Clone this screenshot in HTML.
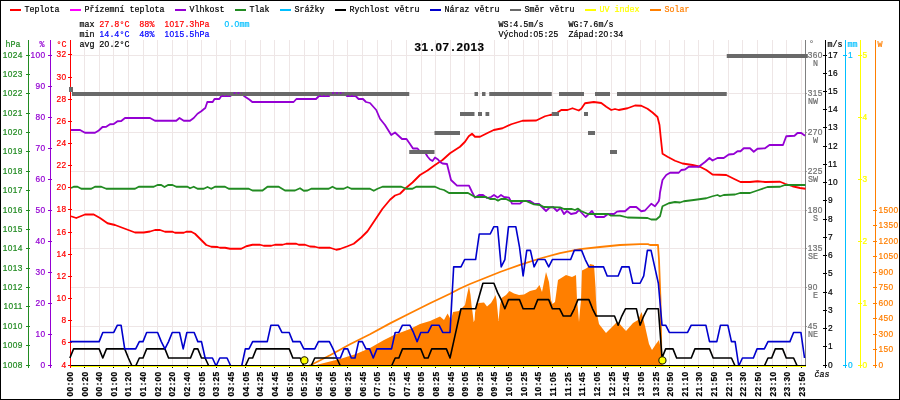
<!DOCTYPE html>
<html lang="cs"><head><meta charset="utf-8"><title>Meteo 31.07.2013</title>
<style>
html,body{margin:0;padding:0;background:#fff;overflow:hidden}
svg{display:block}
text{font-family:"Liberation Mono","DejaVu Sans Mono",monospace;font-size:8.33px;white-space:pre;stroke-width:0.2px}
.d{font-family:"Liberation Sans",sans-serif;letter-spacing:0.044em}
.b{font-weight:bold}
.ttl{font-weight:bold;font-size:11.67px}
.i{font-style:italic}
.ln{fill:none;stroke-width:1.8;stroke-linejoin:round;stroke-linecap:butt}
.cr{shape-rendering:crispEdges}
</style></head><body>
<svg width="900" height="400" viewBox="0 0 900 400">
<rect x="0" y="0" width="900" height="400" fill="#fff"/>
<g class="cr" fill="#eee6e6">
<rect x="84" y="40" width="1" height="325"/>
<rect x="99" y="40" width="1" height="325"/>
<rect x="113" y="40" width="1" height="325"/>
<rect x="128" y="40" width="1" height="325"/>
<rect x="143" y="40" width="1" height="325"/>
<rect x="157" y="40" width="1" height="325"/>
<rect x="172" y="40" width="1" height="325"/>
<rect x="187" y="40" width="1" height="325"/>
<rect x="201" y="40" width="1" height="325"/>
<rect x="216" y="40" width="1" height="325"/>
<rect x="230" y="40" width="1" height="325"/>
<rect x="245" y="40" width="1" height="325"/>
<rect x="260" y="40" width="1" height="325"/>
<rect x="274" y="40" width="1" height="325"/>
<rect x="289" y="40" width="1" height="325"/>
<rect x="304" y="40" width="1" height="325"/>
<rect x="318" y="40" width="1" height="325"/>
<rect x="333" y="40" width="1" height="325"/>
<rect x="347" y="40" width="1" height="325"/>
<rect x="362" y="40" width="1" height="325"/>
<rect x="377" y="40" width="1" height="325"/>
<rect x="391" y="40" width="1" height="325"/>
<rect x="406" y="40" width="1" height="325"/>
<rect x="421" y="40" width="1" height="325"/>
<rect x="435" y="40" width="1" height="325"/>
<rect x="450" y="40" width="1" height="325"/>
<rect x="464" y="40" width="1" height="325"/>
<rect x="479" y="40" width="1" height="325"/>
<rect x="494" y="40" width="1" height="325"/>
<rect x="508" y="40" width="1" height="325"/>
<rect x="523" y="40" width="1" height="325"/>
<rect x="538" y="40" width="1" height="325"/>
<rect x="552" y="40" width="1" height="325"/>
<rect x="567" y="40" width="1" height="325"/>
<rect x="581" y="40" width="1" height="325"/>
<rect x="596" y="40" width="1" height="325"/>
<rect x="611" y="40" width="1" height="325"/>
<rect x="625" y="40" width="1" height="325"/>
<rect x="640" y="40" width="1" height="325"/>
<rect x="655" y="40" width="1" height="325"/>
<rect x="669" y="40" width="1" height="325"/>
<rect x="684" y="40" width="1" height="325"/>
<rect x="698" y="40" width="1" height="325"/>
<rect x="713" y="40" width="1" height="325"/>
<rect x="728" y="40" width="1" height="325"/>
<rect x="742" y="40" width="1" height="325"/>
<rect x="757" y="40" width="1" height="325"/>
<rect x="772" y="40" width="1" height="325"/>
<rect x="786" y="40" width="1" height="325"/>
<rect x="801" y="40" width="1" height="325"/>
<rect x="71" y="55" width="735" height="1"/>
<rect x="71" y="93" width="735" height="1"/>
<rect x="71" y="132" width="735" height="1"/>
<rect x="71" y="171" width="735" height="1"/>
<rect x="71" y="210" width="735" height="1"/>
<rect x="71" y="248" width="735" height="1"/>
<rect x="71" y="287" width="735" height="1"/>
<rect x="71" y="326" width="735" height="1"/>
</g>
<g class="cr" fill="#228b22">
<rect x="28" y="40" width="1" height="328"/>
<rect x="26" y="365" width="4" height="1"/>
<rect x="26" y="345" width="4" height="1"/>
<rect x="26" y="326" width="4" height="1"/>
<rect x="26" y="306" width="4" height="1"/>
<rect x="26" y="287" width="4" height="1"/>
<rect x="26" y="268" width="4" height="1"/>
<rect x="26" y="248" width="4" height="1"/>
<rect x="26" y="229" width="4" height="1"/>
<rect x="26" y="210" width="4" height="1"/>
<rect x="26" y="190" width="4" height="1"/>
<rect x="26" y="171" width="4" height="1"/>
<rect x="26" y="151" width="4" height="1"/>
<rect x="26" y="132" width="4" height="1"/>
<rect x="26" y="113" width="4" height="1"/>
<rect x="26" y="93" width="4" height="1"/>
<rect x="26" y="74" width="4" height="1"/>
<rect x="26" y="55" width="4" height="1"/>
</g>
<g class="cr" fill="#9400d3">
<rect x="50" y="40" width="1" height="328"/>
<rect x="48" y="365" width="4" height="1"/>
<rect x="48" y="334" width="4" height="1"/>
<rect x="48" y="303" width="4" height="1"/>
<rect x="48" y="272" width="4" height="1"/>
<rect x="48" y="241" width="4" height="1"/>
<rect x="48" y="210" width="4" height="1"/>
<rect x="48" y="179" width="4" height="1"/>
<rect x="48" y="148" width="4" height="1"/>
<rect x="48" y="117" width="4" height="1"/>
<rect x="48" y="86" width="4" height="1"/>
<rect x="48" y="55" width="4" height="1"/>
</g>
<g class="cr" fill="#ff0000">
<rect x="70" y="40" width="1" height="328"/>
<rect x="68" y="365" width="4" height="1"/>
<rect x="68" y="342" width="4" height="1"/>
<rect x="68" y="320" width="4" height="1"/>
<rect x="68" y="298" width="4" height="1"/>
<rect x="68" y="276" width="4" height="1"/>
<rect x="68" y="254" width="4" height="1"/>
<rect x="68" y="232" width="4" height="1"/>
<rect x="68" y="209" width="4" height="1"/>
<rect x="68" y="187" width="4" height="1"/>
<rect x="68" y="165" width="4" height="1"/>
<rect x="68" y="143" width="4" height="1"/>
<rect x="68" y="121" width="4" height="1"/>
<rect x="68" y="99" width="4" height="1"/>
<rect x="68" y="77" width="4" height="1"/>
<rect x="68" y="54" width="4" height="1"/>
</g>
<g class="cr" fill="#808080">
<rect x="805" y="40" width="1" height="326"/>
</g>
<g class="cr" fill="#a0a0a0">
<rect x="806" y="326" width="1" height="1"/>
<rect x="806" y="287" width="1" height="1"/>
<rect x="806" y="248" width="1" height="1"/>
<rect x="806" y="210" width="1" height="1"/>
<rect x="806" y="171" width="1" height="1"/>
<rect x="806" y="132" width="1" height="1"/>
<rect x="806" y="93" width="1" height="1"/>
<rect x="806" y="55" width="1" height="1"/>
</g>
<g class="cr" fill="#000000">
<rect x="825" y="40" width="1" height="328"/>
<rect x="823" y="365" width="4" height="1"/>
<rect x="823" y="346" width="4" height="1"/>
<rect x="823" y="328" width="4" height="1"/>
<rect x="823" y="310" width="4" height="1"/>
<rect x="823" y="292" width="4" height="1"/>
<rect x="823" y="273" width="4" height="1"/>
<rect x="823" y="255" width="4" height="1"/>
<rect x="823" y="237" width="4" height="1"/>
<rect x="823" y="219" width="4" height="1"/>
<rect x="823" y="200" width="4" height="1"/>
<rect x="823" y="182" width="4" height="1"/>
<rect x="823" y="164" width="4" height="1"/>
<rect x="823" y="146" width="4" height="1"/>
<rect x="823" y="127" width="4" height="1"/>
<rect x="823" y="109" width="4" height="1"/>
<rect x="823" y="91" width="4" height="1"/>
<rect x="823" y="73" width="4" height="1"/>
<rect x="823" y="55" width="4" height="1"/>
</g>
<g class="cr" fill="#00bfff">
<rect x="845" y="40" width="1" height="328"/>
<rect x="843" y="365" width="4" height="1"/>
<rect x="843" y="55" width="4" height="1"/>
</g>
<g class="cr" fill="#ffff00">
<rect x="860" y="40" width="1" height="328"/>
<rect x="858" y="365" width="4" height="1"/>
<rect x="858" y="303" width="4" height="1"/>
<rect x="858" y="241" width="4" height="1"/>
<rect x="858" y="179" width="4" height="1"/>
<rect x="858" y="117" width="4" height="1"/>
<rect x="858" y="55" width="4" height="1"/>
</g>
<g class="cr" fill="#ff7f00">
<rect x="875" y="40" width="1" height="328"/>
<rect x="873" y="365" width="4" height="1"/>
<rect x="873" y="349" width="4" height="1"/>
<rect x="873" y="334" width="4" height="1"/>
<rect x="873" y="318" width="4" height="1"/>
<rect x="873" y="303" width="4" height="1"/>
<rect x="873" y="287" width="4" height="1"/>
<rect x="873" y="272" width="4" height="1"/>
<rect x="873" y="256" width="4" height="1"/>
<rect x="873" y="241" width="4" height="1"/>
<rect x="873" y="225" width="4" height="1"/>
<rect x="873" y="210" width="4" height="1"/>
</g>
<polygon points="316,365 340,359 356,354 370,348 384,340 394,335 402,332 410,329 420,324 430,321 440,316.5 444,320 447.6,313.6 451,320 453,312 459,311 461,309 465,305 467,295 469,286 470.5,295 471.5,305 472.5,312 473.7,322 474.6,320 475,313 476.5,304 479,303 484,302.5 487,306.5 491,303 494,298 495.5,295 496.5,300 497.5,310 498.5,321 499,316 500,305 501.5,298 506,295 509.5,291 514,293.5 519,295 524,294.5 530,291 536,289.5 539.5,285 542,292 546,272 549,282 551,300 552.4,304 555,302 556,295 558,280 566,275 572,277 576,275 577,300 578,310 579,322 580,310 581,300 582,270.5 586,268.5 589,266.5 590,264 594,265 594.5,272 595.5,287 596,300 597,314 599,324 606,333 610,329 616,323 618,322 626,331 633,323 638,320 641.6,312 645,326 649,344 652,350 656,344 659,340 661,350 662.4,365 662.4,366 316,366" fill="#ff7f00"/>
<polyline class="ln" stroke="#ff7f00" points="309,365.5 311,365 330,355.2 350,344.3 370,334.3 390,323.4 410,313.3 430,303.3 450,293.7 460,288.5 470,284 480,280 500,272 520,264.8 540,258.5 560,253.2 580,249.2 600,247 620,245 640,244.2 648,244.2 650,245 658,245 659,260 660.5,300 661.5,365"/>
<polyline class="ln" stroke="#ff0000" points="71,216.25 76.25,218 85,214.5 93.75,214.5 100,218 107.5,223.25 115,225 125,228.75 135,232.5 143.75,232.5 150,231.5 155,230 160,230 165,231.75 172.5,231.75 175,232.75 183.75,232.75 186.25,231.75 191.25,231.75 195,233.75 200,238.75 206.25,245 211.25,246.75 217.5,247 220,247.75 225,247.75 230,248.75 241.25,248.75 246.25,246.25 252.5,244.75 260,244.75 263.75,245.75 271.25,245.75 275,244.75 282.5,244.75 286.25,243.75 296.25,243.75 298.75,244.75 305,244.75 310,246.5 315,246.75 318.75,247.75 330,247.75 336.25,249.75 340,249 347.5,246.25 353.75,243.75 361.25,237.5 367.5,231.25 375,220 382.5,208.75 390,199.75 395,195.5 400,193.75 405,188.75 412.5,182.5 420,175 427.5,170.5 435,165 442.5,160 450,153.25 460,146.75 465,141.75 468.75,136.25 472,133.75 475,136.75 480,136.75 487.5,133 493.75,130 502.5,128.25 511.25,124.25 522.5,120.75 536.25,120.5 545,116.25 550,115 555,114.25 561.25,110 567.5,110 572.5,108.25 578.75,110.5 581.25,108.75 585,103.25 593.75,102 601.25,103 606.25,106.75 611.25,110 615,109 618.75,110 627.5,108.25 635,105.5 641.25,105.75 647.5,108.75 652.5,112.5 657.5,117 659.5,125 660.75,137.5 662.5,153.75 667.5,156.75 675,160.75 682.5,163.5 692.5,165 700,166.75 706.25,170 712.5,174.5 726.25,175 733.75,178.75 740.5,182 750,182 757.5,181.25 765,182 780,181.75 785,183.75 792.5,186.25 800,188 805.5,188.75"/>
<polyline class="ln" stroke="#9400d3" points="71,130 80,130 85,132.75 95,132.75 98.75,130.5 102.5,127 106.25,126.75 110,124.25 113.75,124 117.5,121.25 121.25,121 125,118 150,118 155,120.75 176.25,120.75 179.5,118 183.75,120.75 190,120.75 193.75,118 197.5,113.75 201.25,111.25 204,109 205.3,108 207.3,102 212.7,102 214.5,99 219.3,99 221.3,96 230.3,96 233.3,93 241.3,93 244,96 247,98 249.3,99.5 252.3,102 293.6,102 296.4,99 316,99 319,96 329,96 332,93 344,93 347,96 355.6,96 358.6,99 363,99 366,102 370,103 376.25,110 380,118.75 385,125 391.25,135 395,132.5 402,139 406.5,139 410,144 413,148.5 417.5,148.5 420,151.5 424.5,151.5 427.5,156.5 430,159.5 432.5,161 435,157.5 438,159.5 440,162 442.5,163.5 447,164 449,172 451,180 457,185.6 469,185.6 472,192 475,197.6 479,195 483,195 487,198 491,197 494,195 497.6,197.6 501,195 504,197 509,197.6 512,203.6 520,203.6 523,201 530,201 534,203.6 539,204 546,211 549.6,207.6 553,207 557,211 560.6,208 564,214 567,211 571,214 576,213 579,210 585.6,217 592,211 596,217 604,217 608,214 614,214 617,211.6 620,211.25 625,211.25 630,207 636.25,207 641.25,211.25 645,210.5 651.25,203.75 655,206.25 658.75,201.25 659.5,198 660,192.5 662.5,180 666.25,175 670,172.75 678.75,172.75 681.25,170 685,169.5 688.75,166.75 698.75,166.75 705,162 709.5,158 712.5,160.5 717.5,158 723.75,158 728.75,154.5 733.75,154 737.5,151.25 740.5,151.25 743.75,148.25 750,148.25 753.75,151.75 757.5,148.75 765,148.25 769.5,145 783,145 786.25,136.25 794.5,135.75 797.5,133 801.25,133 805,135.75"/>
<polyline class="ln" stroke="#228b22" points="71,188 73.75,186.75 77.5,186.75 81.25,188.75 91.25,188.75 95,186.75 101.25,186.75 106.25,188.75 135,188.75 138.75,186.75 153.75,186.75 157.5,185 161.25,185 164.5,187 168,185 172.5,185 176.25,186.75 187.5,186.75 190,188.25 193.75,186.75 197.5,188.75 203.75,188.75 207.5,187 211.25,188.75 215,186.75 225,186.75 228.75,188.75 248.75,188.75 252.5,190.5 262.5,190.5 267.5,186.75 278.75,186.75 285,190.5 295,190.5 300,188.25 303.75,190.75 307.5,190.5 311.25,188.75 328.75,188.75 332.5,186.75 336.25,188.75 343.75,188.75 347.5,187 351.25,188.75 370,188.75 373.75,190.75 377.5,188.75 382.5,186.75 401.25,186.75 406.25,188.75 412.5,188.75 416.25,186.75 435,186.75 440,189 444,190 449,193 468,193 475,197 486,197 490,199 495,199 498,200.6 501,199 506,199 510,201 526,201 534,204.4 540,205 544,207 560,207.4 564,209 572,209 575,210 578,208.6 581,211 588,214 608,214 611,215.6 620,215.6 627.5,217.5 647.5,218 651.25,219.5 656.25,219.5 660,216.25 662.5,206.25 668.75,203.25 675,202 680,202.5 683.75,201.25 693.75,200 706.25,198.25 712.5,196.25 717.5,195 720,196.25 723.75,195 735,194.5 740,193 750,193 758.75,190 767.5,187 780,186.75 785,185 805.5,185"/>
<polyline class="ln" style="stroke-width:1.6" stroke="#000000" points="69.9,358.01 73.56,348.89 77.21,348.89 80.87,348.89 84.52,348.89 88.18,348.89 91.83,348.89 95.48,348.89 99.14,348.89 102.8,358.01 106.45,348.89 110.11,348.89 113.76,348.89 117.42,348.89 121.07,348.89 124.72,348.89 128.38,358.01 132.03,366 135.69,366 139.34,358.01 143,358.01 146.66,348.89 150.31,348.89 153.97,348.89 157.62,348.89 161.28,348.89 164.93,348.89 168.58,358.01 172.24,358.01 175.89,358.01 179.55,358.01 183.2,358.01 186.86,358.01 190.51,358.01 194.17,348.89 197.82,348.89 201.48,358.01 205.13,358.01 208.79,366 212.44,366 216.1,366 219.75,366 223.41,366 227.06,366 230.72,366 234.38,366 238.03,366 241.69,366 245.34,366 249,358.01 252.65,358.01 256.31,348.89 259.96,348.89 263.62,348.89 267.27,348.89 270.92,348.89 274.58,348.89 278.24,348.89 281.89,348.89 285.54,348.89 289.2,348.89 292.86,358.01 296.51,358.01 300.16,358.01 303.82,366 307.48,366 311.13,366 314.78,358.01 318.44,358.01 322.1,358.01 325.75,358.01 329.4,358.01 333.06,358.01 336.72,358.01 340.37,366 344.02,366 347.68,366 351.34,366 354.99,366 358.64,366 362.3,366 365.96,366 369.61,366 373.26,366 376.92,366 380.58,366 384.23,366 387.88,366 391.54,366 395.19,358.01 398.85,358.01 402.5,348.89 406.16,348.89 409.81,348.89 413.47,348.89 417.12,348.89 420.78,348.89 424.43,358.01 428.09,358.01 431.75,348.89 435.4,348.89 439.05,348.89 442.71,348.89 446.37,348.89 450.02,358.01 453.67,341.59 457.33,325.18 460.99,308.77 464.64,308.77 468.29,308.77 471.95,308.77 475.61,308.77 479.26,296.01 482.91,283.24 486.57,283.24 490.23,283.24 493.88,283.24 497.53,292.36 501.19,299.65 504.85,308.77 508.5,299.65 512.15,299.65 515.81,299.65 519.47,299.65 523.12,308.77 526.77,308.77 530.43,308.77 534.09,308.77 537.74,299.65 541.39,299.65 545.05,299.65 548.7,299.65 552.36,308.77 556.01,308.77 559.67,308.77 563.32,316.06 566.98,316.06 570.63,316.06 574.29,308.77 577.94,299.65 581.6,299.65 585.25,299.65 588.91,299.65 592.56,308.77 596.22,316.06 599.88,316.06 603.53,316.06 607.18,316.06 610.84,316.06 614.5,316.06 618.15,325.18 621.8,316.06 625.46,308.77 629.11,308.77 632.77,308.77 636.42,308.77 640.08,325.18 643.73,316.06 647.39,308.77 651.04,308.77 654.7,308.77 658.35,308.77 662.01,358.01 665.66,348.89 669.32,348.89 672.97,348.89 676.63,358.01 680.28,358.01 683.94,358.01 687.59,358.01 691.25,358.01 694.9,348.89 698.56,348.89 702.21,348.89 705.87,348.89 709.52,348.89 713.18,358.01 716.83,358.01 720.49,358.01 724.14,358.01 727.8,358.01 731.45,358.01 735.11,366 738.76,366 742.42,366 746.07,366 749.73,366 753.38,366 757.04,366 760.69,366 764.35,366 768,358.01 771.66,358.01 775.31,348.89 778.97,348.89 782.62,348.89 786.28,358.01 789.93,358.01 793.59,358.01 797.24,366 800.9,366 804.55,366"/>
<polyline class="ln" style="stroke-width:1.6" stroke="#0000cd" points="69.9,341.59 73.56,341.59 77.21,341.59 80.87,341.59 84.52,341.59 88.18,341.59 91.83,341.59 95.48,341.59 99.14,341.59 102.8,332.48 106.45,332.48 110.11,332.48 113.76,332.48 117.42,325.18 121.07,325.18 124.72,348.89 128.38,348.89 132.03,348.89 135.69,348.89 139.34,341.59 143,341.59 146.66,332.48 150.31,332.48 153.97,332.48 157.62,332.48 161.28,341.59 164.93,348.89 168.58,341.59 172.24,332.48 175.89,332.48 179.55,332.48 183.2,348.89 186.86,332.48 190.51,332.48 194.17,332.48 197.82,341.59 201.48,341.59 205.13,358.01 208.79,358.01 212.44,358.01 216.1,366 219.75,358.01 223.41,358.01 227.06,358.01 230.72,366 234.38,366 238.03,366 241.69,366 245.34,348.89 249,348.89 252.65,341.59 256.31,341.59 259.96,341.59 263.62,341.59 267.27,341.59 270.92,325.18 274.58,325.18 278.24,325.18 281.89,332.48 285.54,332.48 289.2,332.48 292.86,341.59 296.51,341.59 300.16,341.59 303.82,348.89 307.48,348.89 311.13,348.89 314.78,348.89 318.44,341.59 322.1,341.59 325.75,341.59 329.4,341.59 333.06,348.89 336.72,358.01 340.37,358.01 344.02,348.89 347.68,348.89 351.34,358.01 354.99,358.01 358.64,341.59 362.3,341.59 365.96,348.89 369.61,348.89 373.26,358.01 376.92,348.89 380.58,348.89 384.23,348.89 387.88,348.89 391.54,348.89 395.19,332.48 398.85,332.48 402.5,325.18 406.16,325.18 409.81,325.18 413.47,332.48 417.12,341.59 420.78,332.48 424.43,332.48 428.09,332.48 431.75,325.18 435.4,325.18 439.05,325.18 442.71,332.48 446.37,332.48 450.02,332.48 453.67,266.83 457.33,266.83 460.99,266.83 464.64,259.54 468.29,259.54 471.95,259.54 475.61,259.54 479.26,234.01 482.91,234.01 486.57,234.01 490.23,234.01 493.88,226.71 497.53,226.71 501.19,266.83 504.85,259.54 508.5,226.71 512.15,226.71 515.81,226.71 519.47,246.77 523.12,275.95 526.77,250.42 530.43,250.42 534.09,266.83 537.74,259.54 541.39,259.54 545.05,259.54 548.7,266.83 552.36,259.54 556.01,259.54 559.67,259.54 563.32,259.54 566.98,259.54 570.63,259.54 574.29,250.42 577.94,250.42 581.6,250.42 585.25,259.54 588.91,266.83 592.56,266.83 596.22,266.83 599.88,266.83 603.53,266.83 607.18,275.95 610.84,275.95 614.5,275.95 618.15,275.95 621.8,266.83 625.46,266.83 629.11,266.83 632.77,283.24 636.42,283.24 640.08,283.24 643.73,275.95 647.39,250.42 651.04,250.42 654.7,266.83 658.35,283.24 662.01,325.18 665.66,325.18 669.32,332.48 672.97,332.48 676.63,332.48 680.28,332.48 683.94,332.48 687.59,332.48 691.25,325.18 694.9,325.18 698.56,325.18 702.21,325.18 705.87,325.18 709.52,341.59 713.18,341.59 716.83,341.59 720.49,325.18 724.14,325.18 727.8,325.18 731.45,341.59 735.11,341.59 738.76,366 742.42,358.01 746.07,358.01 749.73,358.01 753.38,358.01 757.04,348.89 760.69,348.89 764.35,348.89 768,341.59 771.66,341.59 775.31,341.59 778.97,341.59 782.62,341.59 786.28,341.59 789.93,341.59 793.59,332.48 797.24,332.48 800.9,332.48 804.55,358.01"/>
<g fill="#696969">
<rect x="69" y="87" width="4" height="5"/>
<rect x="72" y="92" width="337.25" height="4"/>
<rect x="409.25" y="150" width="25.25" height="4"/>
<rect x="434.5" y="131" width="25.5" height="4"/>
<rect x="460" y="112" width="14.5" height="4"/>
<rect x="474.5" y="92" width="3.5" height="4"/>
<rect x="478" y="112" width="4" height="4"/>
<rect x="482" y="92" width="3.5" height="4"/>
<rect x="485.5" y="112" width="3.75" height="4"/>
<rect x="489.25" y="92" width="62.5" height="4"/>
<rect x="551.75" y="112" width="7.25" height="4"/>
<rect x="559" y="92" width="25" height="4"/>
<rect x="584" y="112" width="4" height="4"/>
<rect x="588" y="131" width="7" height="4"/>
<rect x="595" y="92" width="15" height="4"/>
<rect x="610" y="150" width="7" height="4"/>
<rect x="617" y="92" width="109.75" height="4"/>
<rect x="726.75" y="54" width="81.05" height="4"/>
</g>
<path d="M233.5 93H241.5M332 93H344" stroke="#9400d3" stroke-width="1.6" stroke-dasharray="2.2 1.6" fill="none"/>
<path d="M221.5 95.6H230M319 95.6H329M347 95.6H355.5" stroke="#9400d3" stroke-width="0.9" stroke-dasharray="2.2 1.6" fill="none"/>
<g class="cr">
<rect x="71" y="366" width="735" height="1" fill="#ffff00"/>
<rect x="71" y="365" width="735" height="1" fill="#000000"/>
<rect x="84" y="367" width="1" height="1" fill="#000000"/>
<rect x="99" y="367" width="1" height="1" fill="#000000"/>
<rect x="113" y="367" width="1" height="1" fill="#000000"/>
<rect x="128" y="367" width="1" height="1" fill="#000000"/>
<rect x="143" y="367" width="1" height="1" fill="#000000"/>
<rect x="157" y="367" width="1" height="1" fill="#000000"/>
<rect x="172" y="367" width="1" height="1" fill="#000000"/>
<rect x="187" y="367" width="1" height="1" fill="#000000"/>
<rect x="201" y="367" width="1" height="1" fill="#000000"/>
<rect x="216" y="367" width="1" height="1" fill="#000000"/>
<rect x="230" y="367" width="1" height="1" fill="#000000"/>
<rect x="245" y="367" width="1" height="1" fill="#000000"/>
<rect x="260" y="367" width="1" height="1" fill="#000000"/>
<rect x="274" y="367" width="1" height="1" fill="#000000"/>
<rect x="289" y="367" width="1" height="1" fill="#000000"/>
<rect x="304" y="367" width="1" height="1" fill="#000000"/>
<rect x="318" y="367" width="1" height="1" fill="#000000"/>
<rect x="333" y="367" width="1" height="1" fill="#000000"/>
<rect x="347" y="367" width="1" height="1" fill="#000000"/>
<rect x="362" y="367" width="1" height="1" fill="#000000"/>
<rect x="377" y="367" width="1" height="1" fill="#000000"/>
<rect x="391" y="367" width="1" height="1" fill="#000000"/>
<rect x="406" y="367" width="1" height="1" fill="#000000"/>
<rect x="421" y="367" width="1" height="1" fill="#000000"/>
<rect x="435" y="367" width="1" height="1" fill="#000000"/>
<rect x="450" y="367" width="1" height="1" fill="#000000"/>
<rect x="464" y="367" width="1" height="1" fill="#000000"/>
<rect x="479" y="367" width="1" height="1" fill="#000000"/>
<rect x="494" y="367" width="1" height="1" fill="#000000"/>
<rect x="508" y="367" width="1" height="1" fill="#000000"/>
<rect x="523" y="367" width="1" height="1" fill="#000000"/>
<rect x="538" y="367" width="1" height="1" fill="#000000"/>
<rect x="552" y="367" width="1" height="1" fill="#000000"/>
<rect x="567" y="367" width="1" height="1" fill="#000000"/>
<rect x="581" y="367" width="1" height="1" fill="#000000"/>
<rect x="596" y="367" width="1" height="1" fill="#000000"/>
<rect x="611" y="367" width="1" height="1" fill="#000000"/>
<rect x="625" y="367" width="1" height="1" fill="#000000"/>
<rect x="640" y="367" width="1" height="1" fill="#000000"/>
<rect x="655" y="367" width="1" height="1" fill="#000000"/>
<rect x="669" y="367" width="1" height="1" fill="#000000"/>
<rect x="684" y="367" width="1" height="1" fill="#000000"/>
<rect x="698" y="367" width="1" height="1" fill="#000000"/>
<rect x="713" y="367" width="1" height="1" fill="#000000"/>
<rect x="728" y="367" width="1" height="1" fill="#000000"/>
<rect x="742" y="367" width="1" height="1" fill="#000000"/>
<rect x="757" y="367" width="1" height="1" fill="#000000"/>
<rect x="772" y="367" width="1" height="1" fill="#000000"/>
<rect x="786" y="367" width="1" height="1" fill="#000000"/>
<rect x="801" y="367" width="1" height="1" fill="#000000"/>
</g>
<circle cx="304.4" cy="360.4" r="3.6" fill="#ffff00" stroke="#1a1a00" stroke-width="1.1"/>
<circle cx="662.4" cy="360.4" r="3.6" fill="#ffff00" stroke="#1a1a00" stroke-width="1.1"/>
<text x="22.8" y="367.8" fill="#228b22" stroke="#228b22" text-anchor="end"><tspan class="d">1008</tspan></text>
<text x="22.8" y="347.8" fill="#228b22" stroke="#228b22" text-anchor="end"><tspan class="d">1009</tspan></text>
<text x="22.8" y="328.8" fill="#228b22" stroke="#228b22" text-anchor="end"><tspan class="d">1010</tspan></text>
<text x="22.8" y="308.8" fill="#228b22" stroke="#228b22" text-anchor="end"><tspan class="d">1011</tspan></text>
<text x="22.8" y="289.8" fill="#228b22" stroke="#228b22" text-anchor="end"><tspan class="d">1012</tspan></text>
<text x="22.8" y="270.8" fill="#228b22" stroke="#228b22" text-anchor="end"><tspan class="d">1013</tspan></text>
<text x="22.8" y="250.8" fill="#228b22" stroke="#228b22" text-anchor="end"><tspan class="d">1014</tspan></text>
<text x="22.8" y="231.8" fill="#228b22" stroke="#228b22" text-anchor="end"><tspan class="d">1015</tspan></text>
<text x="22.8" y="212.8" fill="#228b22" stroke="#228b22" text-anchor="end"><tspan class="d">1016</tspan></text>
<text x="22.8" y="192.8" fill="#228b22" stroke="#228b22" text-anchor="end"><tspan class="d">1017</tspan></text>
<text x="22.8" y="173.8" fill="#228b22" stroke="#228b22" text-anchor="end"><tspan class="d">1018</tspan></text>
<text x="22.8" y="153.8" fill="#228b22" stroke="#228b22" text-anchor="end"><tspan class="d">1019</tspan></text>
<text x="22.8" y="134.8" fill="#228b22" stroke="#228b22" text-anchor="end"><tspan class="d">1020</tspan></text>
<text x="22.8" y="115.8" fill="#228b22" stroke="#228b22" text-anchor="end"><tspan class="d">1021</tspan></text>
<text x="22.8" y="95.8" fill="#228b22" stroke="#228b22" text-anchor="end"><tspan class="d">1022</tspan></text>
<text x="22.8" y="76.8" fill="#228b22" stroke="#228b22" text-anchor="end"><tspan class="d">1023</tspan></text>
<text x="22.8" y="57.8" fill="#228b22" stroke="#228b22" text-anchor="end"><tspan class="d">1024</tspan></text>
<text x="45.5" y="367.8" fill="#9400d3" stroke="#9400d3" text-anchor="end"><tspan class="d">0</tspan></text>
<text x="45.5" y="336.8" fill="#9400d3" stroke="#9400d3" text-anchor="end"><tspan class="d">10</tspan></text>
<text x="45.5" y="305.8" fill="#9400d3" stroke="#9400d3" text-anchor="end"><tspan class="d">20</tspan></text>
<text x="45.5" y="274.8" fill="#9400d3" stroke="#9400d3" text-anchor="end"><tspan class="d">30</tspan></text>
<text x="45.5" y="243.8" fill="#9400d3" stroke="#9400d3" text-anchor="end"><tspan class="d">40</tspan></text>
<text x="45.5" y="212.8" fill="#9400d3" stroke="#9400d3" text-anchor="end"><tspan class="d">50</tspan></text>
<text x="45.5" y="181.8" fill="#9400d3" stroke="#9400d3" text-anchor="end"><tspan class="d">60</tspan></text>
<text x="45.5" y="150.8" fill="#9400d3" stroke="#9400d3" text-anchor="end"><tspan class="d">70</tspan></text>
<text x="45.5" y="119.8" fill="#9400d3" stroke="#9400d3" text-anchor="end"><tspan class="d">80</tspan></text>
<text x="45.5" y="88.8" fill="#9400d3" stroke="#9400d3" text-anchor="end"><tspan class="d">90</tspan></text>
<text x="45.5" y="57.8" fill="#9400d3" stroke="#9400d3" text-anchor="end"><tspan class="d">100</tspan></text>
<text x="66.5" y="367.8" fill="#ff0000" stroke="#ff0000" text-anchor="end"><tspan class="d">4</tspan></text>
<text x="66.5" y="344.8" fill="#ff0000" stroke="#ff0000" text-anchor="end"><tspan class="d">6</tspan></text>
<text x="66.5" y="322.8" fill="#ff0000" stroke="#ff0000" text-anchor="end"><tspan class="d">8</tspan></text>
<text x="66.5" y="300.8" fill="#ff0000" stroke="#ff0000" text-anchor="end"><tspan class="d">10</tspan></text>
<text x="66.5" y="278.8" fill="#ff0000" stroke="#ff0000" text-anchor="end"><tspan class="d">12</tspan></text>
<text x="66.5" y="256.8" fill="#ff0000" stroke="#ff0000" text-anchor="end"><tspan class="d">14</tspan></text>
<text x="66.5" y="234.8" fill="#ff0000" stroke="#ff0000" text-anchor="end"><tspan class="d">16</tspan></text>
<text x="66.5" y="211.8" fill="#ff0000" stroke="#ff0000" text-anchor="end"><tspan class="d">18</tspan></text>
<text x="66.5" y="189.8" fill="#ff0000" stroke="#ff0000" text-anchor="end"><tspan class="d">20</tspan></text>
<text x="66.5" y="167.8" fill="#ff0000" stroke="#ff0000" text-anchor="end"><tspan class="d">22</tspan></text>
<text x="66.5" y="145.8" fill="#ff0000" stroke="#ff0000" text-anchor="end"><tspan class="d">24</tspan></text>
<text x="66.5" y="123.8" fill="#ff0000" stroke="#ff0000" text-anchor="end"><tspan class="d">26</tspan></text>
<text x="66.5" y="101.8" fill="#ff0000" stroke="#ff0000" text-anchor="end"><tspan class="d">28</tspan></text>
<text x="66.5" y="79.8" fill="#ff0000" stroke="#ff0000" text-anchor="end"><tspan class="d">30</tspan></text>
<text x="66.5" y="56.8" fill="#ff0000" stroke="#ff0000" text-anchor="end"><tspan class="d">32</tspan></text>
<text x="5.5" y="47.3" fill="#228b22" stroke="#228b22">hPa</text>
<text x="39.5" y="47.3" fill="#9400d3" stroke="#9400d3">%</text>
<text x="56.5" y="47.3" fill="#ff0000" stroke="#ff0000">°C</text>
<text x="807.7" y="328.8" fill="#707070" stroke="#707070"><tspan class="d">45</tspan></text>
<text x="818" y="336.8" fill="#707070" stroke="#707070" text-anchor="end">NE</text>
<text x="807.7" y="289.8" fill="#707070" stroke="#707070"><tspan class="d">90</tspan></text>
<text x="818" y="297.8" fill="#707070" stroke="#707070" text-anchor="end">E</text>
<text x="807.7" y="250.8" fill="#707070" stroke="#707070"><tspan class="d">135</tspan></text>
<text x="818" y="258.8" fill="#707070" stroke="#707070" text-anchor="end">SE</text>
<text x="807.7" y="212.8" fill="#707070" stroke="#707070"><tspan class="d">180</tspan></text>
<text x="818" y="220.8" fill="#707070" stroke="#707070" text-anchor="end">S</text>
<text x="807.7" y="173.8" fill="#707070" stroke="#707070"><tspan class="d">225</tspan></text>
<text x="818" y="181.8" fill="#707070" stroke="#707070" text-anchor="end">SW</text>
<text x="807.7" y="134.8" fill="#707070" stroke="#707070"><tspan class="d">270</tspan></text>
<text x="818" y="142.8" fill="#707070" stroke="#707070" text-anchor="end">W</text>
<text x="807.7" y="95.8" fill="#707070" stroke="#707070"><tspan class="d">315</tspan></text>
<text x="818" y="103.8" fill="#707070" stroke="#707070" text-anchor="end">NW</text>
<text x="807.7" y="57.8" fill="#707070" stroke="#707070"><tspan class="d">360</tspan></text>
<text x="818" y="65.8" fill="#707070" stroke="#707070" text-anchor="end">N</text>
<text x="809" y="45.5" fill="#707070" stroke="#707070">°</text>
<text x="828" y="367.8" fill="#000000" stroke="#000000"><tspan class="d">0</tspan></text>
<text x="828" y="348.8" fill="#000000" stroke="#000000"><tspan class="d">1</tspan></text>
<text x="828" y="330.8" fill="#000000" stroke="#000000"><tspan class="d">2</tspan></text>
<text x="828" y="312.8" fill="#000000" stroke="#000000"><tspan class="d">3</tspan></text>
<text x="828" y="294.8" fill="#000000" stroke="#000000"><tspan class="d">4</tspan></text>
<text x="828" y="275.8" fill="#000000" stroke="#000000"><tspan class="d">5</tspan></text>
<text x="828" y="257.8" fill="#000000" stroke="#000000"><tspan class="d">6</tspan></text>
<text x="828" y="239.8" fill="#000000" stroke="#000000"><tspan class="d">7</tspan></text>
<text x="828" y="221.8" fill="#000000" stroke="#000000"><tspan class="d">8</tspan></text>
<text x="828" y="202.8" fill="#000000" stroke="#000000"><tspan class="d">9</tspan></text>
<text x="828" y="184.8" fill="#000000" stroke="#000000"><tspan class="d">10</tspan></text>
<text x="828" y="166.8" fill="#000000" stroke="#000000"><tspan class="d">11</tspan></text>
<text x="828" y="148.8" fill="#000000" stroke="#000000"><tspan class="d">12</tspan></text>
<text x="828" y="129.8" fill="#000000" stroke="#000000"><tspan class="d">13</tspan></text>
<text x="828" y="111.8" fill="#000000" stroke="#000000"><tspan class="d">14</tspan></text>
<text x="828" y="93.8" fill="#000000" stroke="#000000"><tspan class="d">15</tspan></text>
<text x="828" y="75.8" fill="#000000" stroke="#000000"><tspan class="d">16</tspan></text>
<text x="828" y="57.8" fill="#000000" stroke="#000000"><tspan class="d">17</tspan></text>
<text x="827.5" y="47.3" fill="#000000" stroke="#000000">m/s</text>
<text x="848" y="367.8" fill="#00bfff" stroke="#00bfff"><tspan class="d">0</tspan></text>
<text x="848" y="57.8" fill="#00bfff" stroke="#00bfff"><tspan class="d">1</tspan></text>
<text x="847.5" y="47.3" fill="#00bfff" stroke="#00bfff">mm</text>
<text x="862.5" y="367.8" fill="#ffff00" stroke="#ffff00"><tspan class="d">0</tspan></text>
<text x="862.5" y="305.8" fill="#ffff00" stroke="#ffff00"><tspan class="d">1</tspan></text>
<text x="862.5" y="243.8" fill="#ffff00" stroke="#ffff00"><tspan class="d">2</tspan></text>
<text x="862.5" y="181.8" fill="#ffff00" stroke="#ffff00"><tspan class="d">3</tspan></text>
<text x="862.5" y="119.8" fill="#ffff00" stroke="#ffff00"><tspan class="d">4</tspan></text>
<text x="862.5" y="57.8" fill="#ffff00" stroke="#ffff00"><tspan class="d">5</tspan></text>
<text x="878.5" y="367.8" fill="#ff7f00" stroke="#ff7f00"><tspan class="d">0</tspan></text>
<text x="878.5" y="351.8" fill="#ff7f00" stroke="#ff7f00"><tspan class="d">150</tspan></text>
<text x="878.5" y="336.8" fill="#ff7f00" stroke="#ff7f00"><tspan class="d">300</tspan></text>
<text x="878.5" y="320.8" fill="#ff7f00" stroke="#ff7f00"><tspan class="d">450</tspan></text>
<text x="878.5" y="305.8" fill="#ff7f00" stroke="#ff7f00"><tspan class="d">600</tspan></text>
<text x="878.5" y="289.8" fill="#ff7f00" stroke="#ff7f00"><tspan class="d">750</tspan></text>
<text x="878.5" y="274.8" fill="#ff7f00" stroke="#ff7f00"><tspan class="d">900</tspan></text>
<text x="878.5" y="258.8" fill="#ff7f00" stroke="#ff7f00"><tspan class="d">1050</tspan></text>
<text x="878.5" y="243.8" fill="#ff7f00" stroke="#ff7f00"><tspan class="d">1200</tspan></text>
<text x="878.5" y="227.8" fill="#ff7f00" stroke="#ff7f00"><tspan class="d">1350</tspan></text>
<text x="878.5" y="212.8" fill="#ff7f00" stroke="#ff7f00"><tspan class="d">1500</tspan></text>
<text x="877.5" y="47.3" fill="#ff7f00" stroke="#ff7f00">W</text>
<text x="814.5" y="376.8" fill="#000000" stroke="#000000" class="i">čas</text>
<g class="b" stroke="#000" stroke-width="0.15">
<text transform="translate(72.9,396.5) rotate(-90)" fill="#000"><tspan class="d">00</tspan>:<tspan class="d">00</tspan></text>
<text transform="translate(87.54,396.5) rotate(-90)" fill="#000"><tspan class="d">00</tspan>:<tspan class="d">20</tspan></text>
<text transform="translate(102.18,396.5) rotate(-90)" fill="#000"><tspan class="d">00</tspan>:<tspan class="d">40</tspan></text>
<text transform="translate(116.82,396.5) rotate(-90)" fill="#000"><tspan class="d">01</tspan>:<tspan class="d">00</tspan></text>
<text transform="translate(131.46,396.5) rotate(-90)" fill="#000"><tspan class="d">01</tspan>:<tspan class="d">20</tspan></text>
<text transform="translate(146.1,396.5) rotate(-90)" fill="#000"><tspan class="d">01</tspan>:<tspan class="d">40</tspan></text>
<text transform="translate(160.74,396.5) rotate(-90)" fill="#000"><tspan class="d">02</tspan>:<tspan class="d">00</tspan></text>
<text transform="translate(175.38,396.5) rotate(-90)" fill="#000"><tspan class="d">02</tspan>:<tspan class="d">20</tspan></text>
<text transform="translate(190.02,396.5) rotate(-90)" fill="#000"><tspan class="d">02</tspan>:<tspan class="d">40</tspan></text>
<text transform="translate(204.66,396.5) rotate(-90)" fill="#000"><tspan class="d">03</tspan>:<tspan class="d">05</tspan></text>
<text transform="translate(219.3,396.5) rotate(-90)" fill="#000"><tspan class="d">03</tspan>:<tspan class="d">25</tspan></text>
<text transform="translate(233.94,396.5) rotate(-90)" fill="#000"><tspan class="d">03</tspan>:<tspan class="d">45</tspan></text>
<text transform="translate(248.58,396.5) rotate(-90)" fill="#000"><tspan class="d">04</tspan>:<tspan class="d">05</tspan></text>
<text transform="translate(263.22,396.5) rotate(-90)" fill="#000"><tspan class="d">04</tspan>:<tspan class="d">25</tspan></text>
<text transform="translate(277.86,396.5) rotate(-90)" fill="#000"><tspan class="d">04</tspan>:<tspan class="d">45</tspan></text>
<text transform="translate(292.5,396.5) rotate(-90)" fill="#000"><tspan class="d">05</tspan>:<tspan class="d">05</tspan></text>
<text transform="translate(307.14,396.5) rotate(-90)" fill="#000"><tspan class="d">05</tspan>:<tspan class="d">25</tspan></text>
<text transform="translate(321.78,396.5) rotate(-90)" fill="#000"><tspan class="d">05</tspan>:<tspan class="d">45</tspan></text>
<text transform="translate(336.42,396.5) rotate(-90)" fill="#000"><tspan class="d">06</tspan>:<tspan class="d">05</tspan></text>
<text transform="translate(351.06,396.5) rotate(-90)" fill="#000"><tspan class="d">06</tspan>:<tspan class="d">25</tspan></text>
<text transform="translate(365.7,396.5) rotate(-90)" fill="#000"><tspan class="d">06</tspan>:<tspan class="d">45</tspan></text>
<text transform="translate(380.34,396.5) rotate(-90)" fill="#000"><tspan class="d">07</tspan>:<tspan class="d">05</tspan></text>
<text transform="translate(394.98,396.5) rotate(-90)" fill="#000"><tspan class="d">07</tspan>:<tspan class="d">25</tspan></text>
<text transform="translate(409.62,396.5) rotate(-90)" fill="#000"><tspan class="d">07</tspan>:<tspan class="d">45</tspan></text>
<text transform="translate(424.26,396.5) rotate(-90)" fill="#000"><tspan class="d">08</tspan>:<tspan class="d">05</tspan></text>
<text transform="translate(438.9,396.5) rotate(-90)" fill="#000"><tspan class="d">08</tspan>:<tspan class="d">25</tspan></text>
<text transform="translate(453.54,396.5) rotate(-90)" fill="#000"><tspan class="d">08</tspan>:<tspan class="d">45</tspan></text>
<text transform="translate(468.18,396.5) rotate(-90)" fill="#000"><tspan class="d">09</tspan>:<tspan class="d">05</tspan></text>
<text transform="translate(482.82,396.5) rotate(-90)" fill="#000"><tspan class="d">09</tspan>:<tspan class="d">25</tspan></text>
<text transform="translate(497.46,396.5) rotate(-90)" fill="#000"><tspan class="d">09</tspan>:<tspan class="d">45</tspan></text>
<text transform="translate(512.1,396.5) rotate(-90)" fill="#000"><tspan class="d">10</tspan>:<tspan class="d">05</tspan></text>
<text transform="translate(526.74,396.5) rotate(-90)" fill="#000"><tspan class="d">10</tspan>:<tspan class="d">25</tspan></text>
<text transform="translate(541.38,396.5) rotate(-90)" fill="#000"><tspan class="d">10</tspan>:<tspan class="d">45</tspan></text>
<text transform="translate(556.02,396.5) rotate(-90)" fill="#000"><tspan class="d">11</tspan>:<tspan class="d">05</tspan></text>
<text transform="translate(570.66,396.5) rotate(-90)" fill="#000"><tspan class="d">11</tspan>:<tspan class="d">25</tspan></text>
<text transform="translate(585.3,396.5) rotate(-90)" fill="#000"><tspan class="d">11</tspan>:<tspan class="d">45</tspan></text>
<text transform="translate(599.94,396.5) rotate(-90)" fill="#000"><tspan class="d">12</tspan>:<tspan class="d">05</tspan></text>
<text transform="translate(614.58,396.5) rotate(-90)" fill="#000"><tspan class="d">12</tspan>:<tspan class="d">25</tspan></text>
<text transform="translate(629.22,396.5) rotate(-90)" fill="#000"><tspan class="d">12</tspan>:<tspan class="d">45</tspan></text>
<text transform="translate(643.86,396.5) rotate(-90)" fill="#000"><tspan class="d">13</tspan>:<tspan class="d">05</tspan></text>
<text transform="translate(658.5,396.5) rotate(-90)" fill="#000"><tspan class="d">13</tspan>:<tspan class="d">25</tspan></text>
<text transform="translate(673.14,396.5) rotate(-90)" fill="#000"><tspan class="d">20</tspan>:<tspan class="d">50</tspan></text>
<text transform="translate(687.78,396.5) rotate(-90)" fill="#000"><tspan class="d">21</tspan>:<tspan class="d">10</tspan></text>
<text transform="translate(702.42,396.5) rotate(-90)" fill="#000"><tspan class="d">21</tspan>:<tspan class="d">30</tspan></text>
<text transform="translate(717.06,396.5) rotate(-90)" fill="#000"><tspan class="d">21</tspan>:<tspan class="d">50</tspan></text>
<text transform="translate(731.7,396.5) rotate(-90)" fill="#000"><tspan class="d">22</tspan>:<tspan class="d">10</tspan></text>
<text transform="translate(746.34,396.5) rotate(-90)" fill="#000"><tspan class="d">22</tspan>:<tspan class="d">30</tspan></text>
<text transform="translate(760.98,396.5) rotate(-90)" fill="#000"><tspan class="d">22</tspan>:<tspan class="d">50</tspan></text>
<text transform="translate(775.62,396.5) rotate(-90)" fill="#000"><tspan class="d">23</tspan>:<tspan class="d">10</tspan></text>
<text transform="translate(790.26,396.5) rotate(-90)" fill="#000"><tspan class="d">23</tspan>:<tspan class="d">30</tspan></text>
<text transform="translate(804.9,396.5) rotate(-90)" fill="#000"><tspan class="d">23</tspan>:<tspan class="d">50</tspan></text>
</g>
<rect class="cr" x="10" y="9" width="11" height="2" fill="#ff0000"/>
<text x="24.5" y="12.3" fill="#000000" stroke="#000000">Teplota</text>
<rect class="cr" x="70" y="9" width="11" height="2" fill="#ff00ff"/>
<text x="84.5" y="12.3" fill="#000000" stroke="#000000">Přízemní teplota</text>
<rect class="cr" x="175" y="9" width="11" height="2" fill="#9400d3"/>
<text x="189.5" y="12.3" fill="#000000" stroke="#000000">Vlhkost</text>
<rect class="cr" x="235" y="9" width="11" height="2" fill="#228b22"/>
<text x="249.5" y="12.3" fill="#000000" stroke="#000000">Tlak</text>
<rect class="cr" x="280" y="9" width="11" height="2" fill="#00bfff"/>
<text x="294.5" y="12.3" fill="#000000" stroke="#000000">Srážky</text>
<rect class="cr" x="335" y="9" width="11" height="2" fill="#000000"/>
<text x="349.5" y="12.3" fill="#000000" stroke="#000000">Rychlost větru</text>
<rect class="cr" x="430" y="9" width="11" height="2" fill="#0000cd"/>
<text x="444.5" y="12.3" fill="#000000" stroke="#000000">Náraz větru</text>
<rect class="cr" x="510" y="9" width="11" height="2" fill="#696969"/>
<text x="524.5" y="12.3" fill="#000000" stroke="#000000">Směr větru</text>
<rect class="cr" x="585" y="9" width="11" height="2" fill="#ffff00"/>
<text x="599.5" y="12.3" fill="#ffff00" stroke="#ffff00">UV index</text>
<rect class="cr" x="650" y="9" width="11" height="2" fill="#ff7f00"/>
<text x="664.5" y="12.3" fill="#ff7f00" stroke="#ff7f00">Solar</text>
<text x="79.5" y="27" fill="#000000" stroke="#000000">max</text>
<text x="99.5" y="27" fill="#ff0000" stroke="#ff0000"><tspan class="d">27</tspan>.<tspan class="d">8</tspan>°C</text>
<text x="139.5" y="27" fill="#ff0000" stroke="#ff0000"><tspan class="d">88</tspan>%</text>
<text x="164.5" y="27" fill="#ff0000" stroke="#ff0000"><tspan class="d">1017</tspan>.<tspan class="d">3</tspan>hPa</text>
<text x="224.5" y="27" fill="#00bfff" stroke="#00bfff"><tspan class="d">0</tspan>.<tspan class="d">0</tspan>mm</text>
<text x="79.5" y="37" fill="#000000" stroke="#000000">min</text>
<text x="99.5" y="37" fill="#0000ff" stroke="#0000ff"><tspan class="d">14</tspan>.<tspan class="d">4</tspan>°C</text>
<text x="139.5" y="37" fill="#0000ff" stroke="#0000ff"><tspan class="d">48</tspan>%</text>
<text x="164.5" y="37" fill="#0000ff" stroke="#0000ff"><tspan class="d">1015</tspan>.<tspan class="d">5</tspan>hPa</text>
<text x="79.5" y="47.3" fill="#000000" stroke="#000000">avg <tspan class="d">20</tspan>.<tspan class="d">2</tspan>°C</text>
<text x="498.5" y="27" fill="#000000" stroke="#000000">WS:<tspan class="d">4</tspan>.<tspan class="d">5</tspan>m/s</text>
<text x="568.5" y="27" fill="#000000" stroke="#000000">WG:<tspan class="d">7</tspan>.<tspan class="d">6</tspan>m/s</text>
<text x="498.5" y="37" fill="#000000" stroke="#000000">Východ:<tspan class="d">05</tspan>:<tspan class="d">25</tspan></text>
<text x="568.5" y="37" fill="#000000" stroke="#000000">Západ:<tspan class="d">20</tspan>:<tspan class="d">34</tspan></text>
<text x="414.5" y="51" fill="#000000" stroke="#000000" class="ttl"><tspan class="d">31</tspan>.<tspan class="d">07</tspan>.<tspan class="d">2013</tspan></text>
<g class="cr" fill="#000">
<rect x="0" y="0" width="900" height="1"/>
<rect x="0" y="0" width="1" height="400"/>
<rect x="899" y="0" width="1" height="400"/>
<rect x="0" y="399" width="900" height="1"/>
</g>
</svg></body></html>
